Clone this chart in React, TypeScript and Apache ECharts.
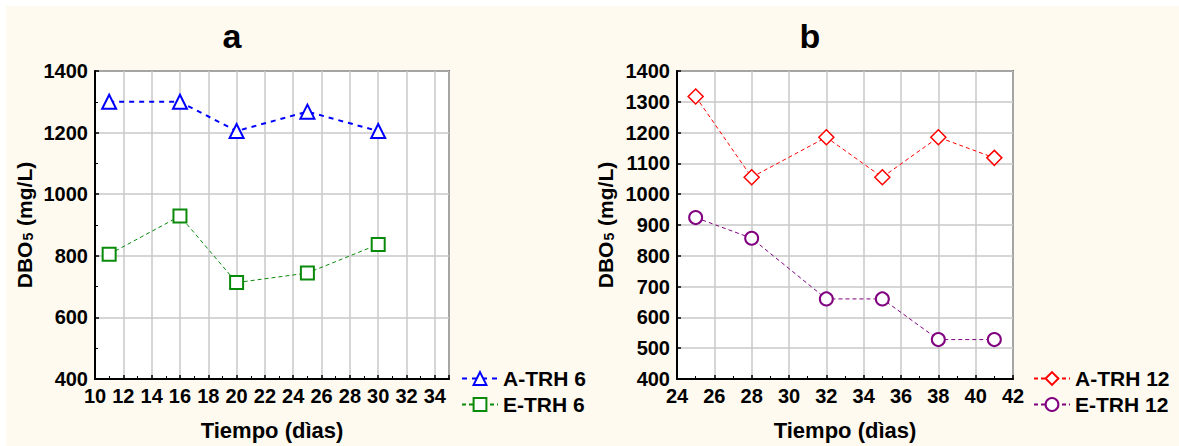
import React, { useEffect, useRef } from "react";
import * as echarts from "echarts";

const daysA = [11, 16, 20, 25, 30];
const aTrh6 = [1300, 1300, 1205, 1268, 1205];
const eTrh6 = [805, 929, 713, 744, 837];

const daysB = [25, 28, 32, 35, 38, 41];
const aTrh12 = [1317, 1055, 1185, 1055, 1185, 1118];
const eTrh12 = [924, 857, 660, 660, 528, 528];

const panelTitles = ["a", "b"];
const xName = "Tiempo (dìas)";
const legendA = ["A-TRH 6", "E-TRH 6"];
const legendB = ["A-TRH 12", "E-TRH 12"];

const FONT = "Arial, 'Liberation Sans', sans-serif";

function pairs(xs: number[], ys: number[]) {
  return xs.map((x, i) => [x, ys[i]]);
}

export default function App() {
  const ref = useRef<HTMLDivElement>(null);
  useEffect(() => {
    document.body.style.margin = "0";
    if (!ref.current) return;
    const chart = echarts.init(ref.current, null, { renderer: "svg" });
    const labelStyle = {
      color: "#000", fontWeight: "bold" as const, fontSize: 20, fontFamily: FONT, margin: 7,
      formatter: (v: number) => String(v),
    };
    const splitLine = { show: true, lineStyle: { color: "#c8c8c8", width: 1.5 } };
    const axisLine = { show: true, onZero: false, lineStyle: { color: "#000", width: 2 } };
    const axisTick = { show: true, inside: true, length: 4, lineStyle: { color: "#000", width: 1.5 } };
    const minorTick = { show: true, splitNumber: 2, length: 3, lineStyle: { color: "#000", width: 1 } };
    const nameStyle = { color: "#000", fontWeight: "bold" as const, fontSize: 22, fontFamily: FONT };
    const yName = "{b|DBO}{s|5}{b| (mg/L)}";
    const yNameStyle = {
      ...nameStyle,
      rich: {
        b: { color: "#000", fontWeight: "bold", fontSize: 21, fontFamily: FONT, verticalAlign: "bottom" },
        s: { color: "#000", fontWeight: "bold", fontSize: 14, fontFamily: FONT, verticalAlign: "bottom", padding: [0, 1, 0, 1] },
      },
    };
    const gridCommon = { show: true, backgroundColor: "#fff", borderColor: "#000", borderWidth: 1.5, containLabel: false };
    const legendText = { color: "#000", fontWeight: "bold", fontSize: 21, fontFamily: FONT, padding: [0, 0, 0, 0] };
    const option: any = {
      animation: false,
      backgroundColor: "transparent",
      textStyle: { fontFamily: FONT },
      grid: [
        { ...gridCommon, left: 95, top: 71, width: 354, height: 310 },
        { ...gridCommon, left: 677, top: 71, width: 336, height: 310 },
      ],
      graphic: [
        { type: "text", x: 232, y: 36, style: { text: panelTitles[0], font: `bold 34px ${FONT}`, fill: "#000", align: "center", verticalAlign: "middle" } },
        { type: "text", x: 810, y: 36, style: { text: panelTitles[1], font: `bold 34px ${FONT}`, fill: "#000", align: "center", verticalAlign: "middle" } },
      ],
      xAxis: [
        {
          gridIndex: 0, type: "value", min: 10, max: 35, interval: 2,
          name: xName, nameLocation: "middle", nameGap: 40, nameTextStyle: nameStyle,
          axisLabel: { ...labelStyle, showMaxLabel: false }, axisLine, axisTick, minorTick, splitLine,
        },
        {
          gridIndex: 1, type: "value", min: 24, max: 42, interval: 2,
          name: xName, nameLocation: "middle", nameGap: 40, nameTextStyle: nameStyle,
          axisLabel: { ...labelStyle }, axisLine, axisTick, minorTick, splitLine,
        },
      ],
      yAxis: [
        {
          gridIndex: 0, type: "value", min: 400, max: 1400, interval: 200,
          name: yName, nameLocation: "middle", nameGap: 60, nameTextStyle: yNameStyle,
          axisLabel: labelStyle, axisLine, axisTick, minorTick, splitLine,
        },
        {
          gridIndex: 1, type: "value", min: 400, max: 1400, interval: 100,
          name: yName, nameLocation: "middle", nameGap: 61, nameTextStyle: yNameStyle,
          axisLabel: labelStyle, axisLine, axisTick, splitLine,
        },
      ],
      legend: [
        {
          data: legendA, orient: "vertical", left: 456, top: 363, itemWidth: 36, itemHeight: 16, itemGap: 5,
          textStyle: legendText,
        },
        {
          data: legendB, orient: "vertical", left: 1028, top: 363, itemWidth: 36, itemHeight: 16, itemGap: 5,
          textStyle: legendText,
        },
      ],
      series: [
        {
          name: legendA[0], type: "line", xAxisIndex: 0, yAxisIndex: 0, data: pairs(daysA, aTrh6),
          symbol: "triangle", symbolSize: 14,
          itemStyle: { color: "#fff", borderColor: "#0000ff", borderWidth: 2 },
          lineStyle: { color: "#0000ff", width: 2, type: [5, 5] },
          z: 3,
        },
        {
          name: legendA[1], type: "line", xAxisIndex: 0, yAxisIndex: 0, data: pairs(daysA, eTrh6),
          symbol: "rect", symbolSize: 13,
          itemStyle: { color: "#fff", borderColor: "#0a8a0a", borderWidth: 2 },
          lineStyle: { color: "#0a8a0a", width: 1, type: [4, 3] },
        },
        {
          name: legendB[0], type: "line", xAxisIndex: 1, yAxisIndex: 1, data: pairs(daysB, aTrh12),
          symbol: "diamond", symbolSize: 15,
          itemStyle: { color: "#fff", borderColor: "#ff0000", borderWidth: 1.5 },
          lineStyle: { color: "#ff0000", width: 1, type: [4, 3] },
        },
        {
          name: legendB[1], type: "line", xAxisIndex: 1, yAxisIndex: 1, data: pairs(daysB, eTrh12),
          symbol: "circle", symbolSize: 13,
          itemStyle: { color: "#fff", borderColor: "#800080", borderWidth: 2 },
          lineStyle: { color: "#800080", width: 1, type: [4, 3] },
        },
      ],
    };
    chart.setOption(option);
    return () => chart.dispose();
  }, []);
  return (
    <div style={{ position: "relative", width: 1179, height: 446, background: "#fff" }}>
      <div style={{ position: "absolute", left: 6, top: 6, right: 0, bottom: 0, background: "#fefaf0" }} />
      <div ref={ref} style={{ position: "absolute", left: 0, top: 0, width: 1179, height: 446 }} />
    </div>
  );
}
